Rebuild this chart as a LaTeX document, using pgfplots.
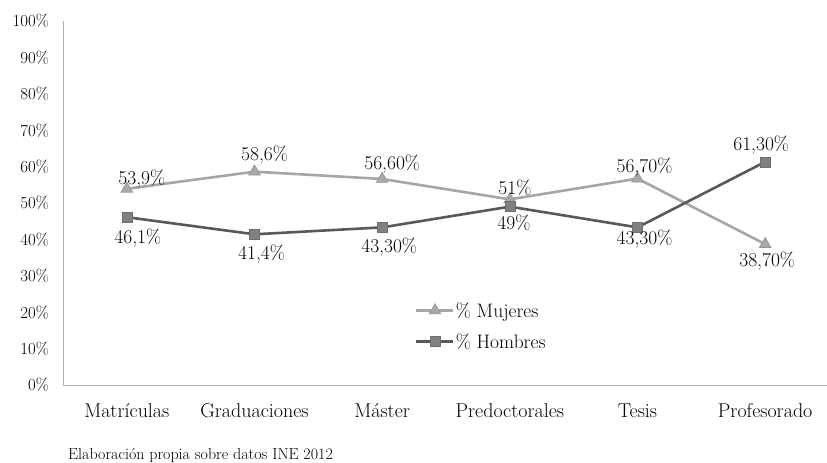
\documentclass[border=0pt]{standalone}
\usepackage{fontspec}
\usepackage{pgfplots}
\usepackage{pgfplotstable}
\pgfplotsset{compat=1.18}
\definecolor{mujline}{RGB}{166,166,166}
\definecolor{mujmark}{RGB}{168,168,168}
\definecolor{mujedge}{RGB}{150,150,150}
\definecolor{homline}{RGB}{89,89,89}
\definecolor{hommark}{RGB}{128,128,128}
\definecolor{homedge}{RGB}{110,110,110}
\definecolor{axgray}{RGB}{175,175,175}

\pgfplotstableread{
x y label ys xs
0 53.9 {53,9\%} 4.7 15
1 58.6 {58,6\%} 10.9 10
2 56.6 {56,60\%} 9.9 10
3 51 {51\%} 5.3 5
4 56.7 {56,70\%} 6.5 7
5 38.7 {38,70\%} -22.1 2
}\mujeres
\pgfplotstableread{
x y label ys xs
0 46.1 {46,1\%} -25.9 11
1 41.4 {41,4\%} -25.5 7
2 43.3 {43,30\%} -25 7
3 49 {49\%} -23.2 4
4 43.3 {43,30\%} -17.4 7
5 61.3 {61,30\%} 10.9 -4
}\hombres

\begin{document}
\begin{tikzpicture}
\begin{axis}[
  at={(63pt,78pt)}, anchor=south west,
  scale only axis, width=766pt, height=364pt,
  xmin=-0.5, xmax=5.5, ymin=0, ymax=100,
  axis lines=left,
  axis line style={-, draw=axgray, line width=0.9pt},
  major tick length=0pt,
  clip=false,
  xtick={0,1,2,3,4,5},
  xticklabels={Matrículas,Graduaciones,Máster,Predoctorales,Tesis,Profesorado},
  xticklabel style={font=\fontsize{20}{24}\selectfont, anchor=base, inner sep=0pt, yshift=-33pt},
  ytick={0,10,...,100},
  yticklabel={\pgfmathprintnumber{\tick}\%},
  /pgf/number format/assume math mode=true,
  yticklabel style={font=\fontsize{16.8}{20}\selectfont, anchor=east, inner sep=0pt, xshift=-14pt},
  nodes near coords,
  point meta=explicit symbolic,
  visualization depends on={\thisrow{ys}\as\ys},
  visualization depends on={\thisrow{xs}\as\xs},
  every node near coord/.append style={font=\fontsize{19.5}{22}\selectfont, anchor=base, inner sep=0pt, yshift=\ys pt, xshift=\xs pt, text=black},
  legend style={draw=none, fill=none, at={(0.4595,0.162)}, anchor=west,
    font=\fontsize{19.5}{22}\selectfont, inner sep=0pt, row sep=15pt,
    nodes={inner sep=0pt}, column sep=1pt},
  legend cell align=left,
  legend image code/.code={\draw[mark repeat=2, mark phase=2, #1] plot coordinates {(0pt,0pt) (18.5pt,0pt) (37pt,0pt)};},
]
\addplot[color=mujline, line width=2.6pt, mark=triangle*, mark size=6.8pt,
  mark options={solid, fill=mujmark, draw=mujedge, line width=0.6pt}]
  table[x=x, y=y, meta=label] {\mujeres};
\addlegendentry{\% Mujeres}
\addplot[color=homline, line width=2.6pt, mark=square*, mark size=5pt,
  mark options={solid, fill=hommark, draw=homedge, line width=0.6pt}]
  table[x=x, y=y, meta=label] {\hombres};
\addlegendentry{\% Hombres}
\end{axis}
\node[anchor=base west, font=\fontsize{16}{19}\selectfont, inner sep=0pt] at (68pt,3.7pt) {Elaboración propia sobre datos INE 2012};
\pgfresetboundingbox
\useasboundingbox (0,0) rectangle (827pt,463pt);
\end{tikzpicture}
\end{document}
